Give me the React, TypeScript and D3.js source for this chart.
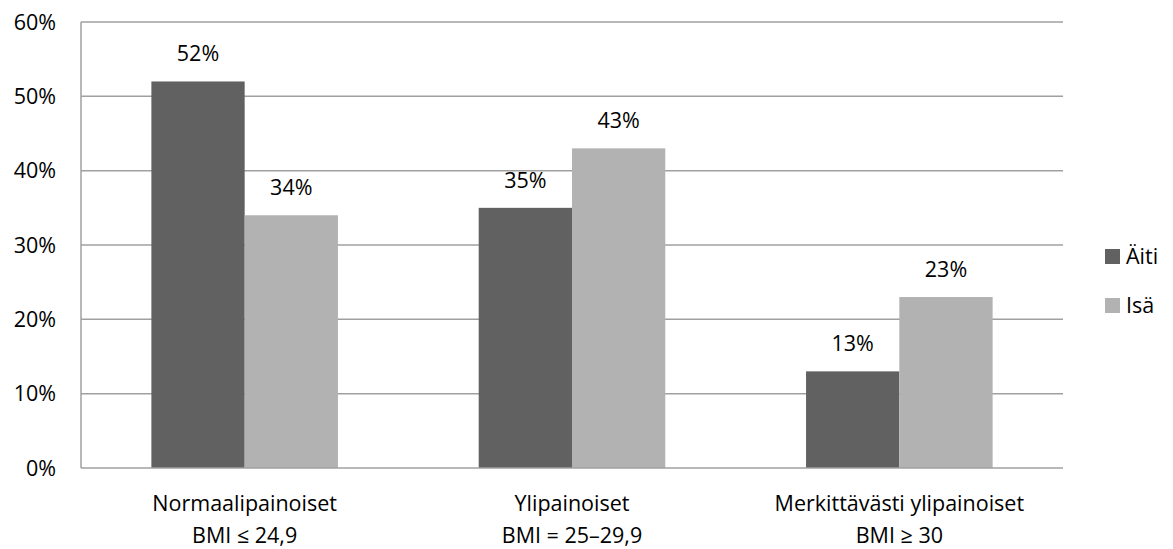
import React from "react";
import * as d3 from "d3";

const categories = [
  ["Normaalipainoiset", "BMI ≤ 24,9"],
  ["Ylipainoiset", "BMI = 25–29,9"],
  ["Merkittävästi ylipainoiset", "BMI ≥ 30"],
];
const seriesNames = ["Äiti", "Isä"];
const aitiValues = [52, 35, 13];
const isaValues = [34, 43, 23];
const seriesColors = ["#616161", "#b2b2b2"];
const yTicks = [0, 10, 20, 30, 40, 50, 60];

const W = 1173;
const H = 549;
const plot = { left: 81, right: 1063, top: 22, bottom: 468 };
const FONT = "'Open Sans', sans-serif";
const FS = 21.5;

export default function App() {
  const y = d3.scaleLinear().domain([0, 60]).range([plot.bottom, plot.top]);
  const x0 = d3
    .scaleBand<number>()
    .domain(d3.range(categories.length))
    .range([plot.left, plot.right])
    .paddingInner(0.43)
    .paddingOuter(0.215);
  const x1 = d3.scaleBand<number>().domain([0, 1]).range([0, x0.bandwidth()]);
  const series = [aitiValues, isaValues];

  return (
    <svg
      width={W}
      height={H}
      style={{ position: "absolute", left: 0, top: 0, background: "#fff" }}
      fontFamily={FONT}
    >
      {yTicks.map((t) => (
        <g key={t}>
          {t > 0 && (
            <line
              x1={plot.left}
              x2={plot.right}
              y1={y(t)}
              y2={y(t)}
              stroke="#a0a0a0"
              strokeWidth={1.5}
            />
          )}
          <text x={56} y={y(t) + 7.5} textAnchor="end" fontSize={FS} fill="#000">
            {t}%
          </text>
        </g>
      ))}
      {series.map((vals, si) =>
        vals.map((v, ci) => {
          const bx = x0(ci)! + x1(si)!;
          return (
            <g key={`${si}-${ci}`}>
              <rect
                x={bx}
                y={y(v)}
                width={x1.bandwidth()}
                height={y(0) - y(v)}
                fill={seriesColors[si]}
              />
              <text
                x={bx + x1.bandwidth() / 2}
                y={y(v) - 20}
                textAnchor="middle"
                fontSize={FS}
                fill="#000"
              >
                {v}%
              </text>
            </g>
          );
        })
      )}
      <line x1={plot.left} x2={plot.left} y1={plot.top} y2={plot.bottom} stroke="#a0a0a0" strokeWidth={1.5} />
      <line x1={plot.left} x2={plot.right} y1={plot.bottom} y2={plot.bottom} stroke="#a0a0a0" strokeWidth={1.5} />
      {categories.map((lines, ci) => {
        const cx = x0(ci)! + x0.bandwidth() / 2;
        return (
          <text key={ci} x={cx} textAnchor="middle" fontSize={FS} fill="#000">
            <tspan x={cx} y={511}>{lines[0]}</tspan>
            <tspan x={cx} y={543}>{lines[1]}</tspan>
          </text>
        );
      })}
      {seriesNames.map((name, si) => (
        <g key={name} transform={`translate(1105, ${249 + si * 49})`}>
          <rect width={15} height={15} fill={seriesColors[si]} />
          <text x={21} y={15} fontSize={FS} fill="#000">
            {name}
          </text>
        </g>
      ))}
    </svg>
  );
}
